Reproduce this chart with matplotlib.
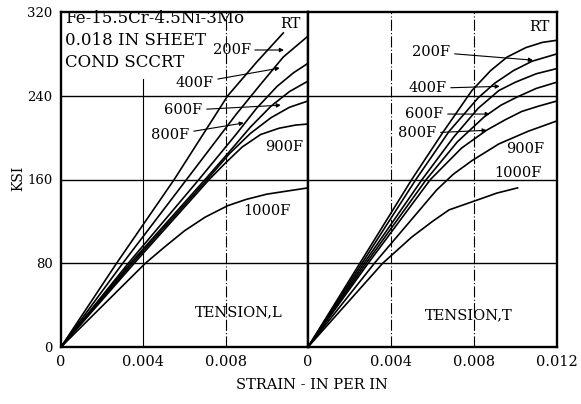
import matplotlib
matplotlib.use("Agg")
import matplotlib.pyplot as plt

# ---------------- data (strain in in/in, stress in ksi) ----------------
temps = ["RT", "200F", "400F", "600F", "800F", "900F", "1000F"]

# Tension, L (left panel)
L_RT_x = [0, 0.0027, 0.0055, 0.0081, 0.0095, 0.0108]
L_RT_y = [0, 80, 160, 240, 272, 300]
L_200_x = [0, 0.0030, 0.0061, 0.0085, 0.0097, 0.0108, 0.0120]
L_200_y = [0, 80, 160, 222, 251, 277, 297]
L_400_x = [0, 0.00327, 0.0067, 0.0085, 0.0095, 0.0105, 0.0113, 0.0120]
L_400_y = [0, 80, 160, 203, 228, 249, 262, 271]
L_600_x = [0, 0.00337, 0.0070, 0.0082, 0.0092, 0.0102, 0.0111, 0.0120]
L_600_y = [0, 80, 160, 187, 210, 230, 244, 254]
L_800_x = [0, 0.00346, 0.0071, 0.0082, 0.0092, 0.0102, 0.0111, 0.0120]
L_800_y = [0, 80, 160, 185, 204, 219, 229, 235]
L_900_x = [0, 0.00356, 0.0072, 0.0080, 0.0088, 0.0097, 0.0106, 0.0114, 0.0120]
L_900_y = [0, 80, 160, 176, 191, 203, 209, 212, 213]
L_1000_x = [0, 0.0041, 0.0050, 0.0060, 0.0070, 0.0081, 0.0090, 0.0100, 0.0110, 0.0120]
L_1000_y = [0, 80, 95, 111, 124, 135, 141, 146, 149, 152]

# Tension, T (right panel)
T_RT_x = [0, 0.0025, 0.0050, 0.0065, 0.0079, 0.0088, 0.0096, 0.0105, 0.0113, 0.0120]
T_RT_y = [0, 80, 160, 205, 245, 264, 277, 286, 291, 293]
T_200_x = [0, 0.0026, 0.0052, 0.0068, 0.0082, 0.0090, 0.0099, 0.0108, 0.0120]
T_200_y = [0, 80, 160, 206, 238, 252, 264, 273, 280]
T_400_x = [0, 0.0027, 0.0055, 0.0070, 0.0082, 0.0092, 0.0100, 0.0110, 0.0120]
T_400_y = [0, 80, 160, 200, 228, 245, 253, 261, 266]
T_600_x = [0, 0.0028, 0.0057, 0.0072, 0.0085, 0.0093, 0.0101, 0.0110, 0.0120]
T_600_y = [0, 80, 160, 196, 220, 231, 239, 247, 253]
T_800_x = [0, 0.0029, 0.0059, 0.0074, 0.0086, 0.0095, 0.0103, 0.0111, 0.0120]
T_800_y = [0, 80, 160, 190, 207, 217, 225, 230, 235]
T_900_x = [0, 0.0032, 0.0062, 0.0070, 0.0079, 0.0092, 0.0106, 0.0120]
T_900_y = [0, 80, 150, 165, 178, 194, 206, 216]
T_1000_x = [0, 0.0036, 0.0050, 0.0060, 0.0068, 0.0081, 0.0091, 0.0101]
T_1000_y = [0, 80, 105, 120, 131, 140, 147, 152]

y_ticks = [0, 80, 160, 240, 320]
x_ticks_left = [0, 0.004, 0.008]
x_tick_labels_left = ["0", "0.004", "0.008"]
x_ticks_right = [0, 0.004, 0.008, 0.012]
x_tick_labels_right = ["0", "0.004", "0.008", "0.012"]

FONT = "DejaVu Serif"
plt.rcParams["font.family"] = [FONT, "DejaVu Sans"]

W, H = 581, 404
fig = plt.figure(figsize=(W / 100, H / 100), dpi=100)

def fx(px):
    return px / W

def fy(py):
    return 1 - py / H

ax_bottom = fy(347)
ax_h = fy(12) - fy(347)
axL = fig.add_axes([fx(61), ax_bottom, fx(308) - fx(61), ax_h])
axR = fig.add_axes([fx(308), ax_bottom, fx(557) - fx(308), ax_h])

curve_lw = 1.2
left_curves = [(L_RT_x, L_RT_y), (L_200_x, L_200_y), (L_400_x, L_400_y),
               (L_600_x, L_600_y), (L_800_x, L_800_y), (L_900_x, L_900_y),
               (L_1000_x, L_1000_y)]
right_curves = [(T_RT_x, T_RT_y), (T_200_x, T_200_y), (T_400_x, T_400_y),
                (T_600_x, T_600_y), (T_800_x, T_800_y), (T_900_x, T_900_y),
                (T_1000_x, T_1000_y)]

for ax in (axL, axR):
    ax.set_xlim(0, 0.012)
    ax.set_ylim(0, 320)
    for s in ax.spines.values():
        s.set_linewidth(1.7)
    for yv in [80, 160, 240]:
        ax.axhline(yv, color="black", lw=1.0, zorder=1)
    ax.tick_params(length=0, pad=6)
    ax.tick_params(axis="y", labelsize=9.5)
    ax.tick_params(axis="x", labelsize=10.5)

for x, y in left_curves:
    axL.plot(x, y, color="black", lw=curve_lw, zorder=3, solid_joinstyle="round")
for x, y in right_curves:
    axR.plot(x, y, color="black", lw=curve_lw, zorder=3, solid_joinstyle="round")

# vertical grid lines
axL.plot([0.004, 0.004], [0, 256], color="black", lw=0.8, zorder=1)
axL.axvline(0.008, color="black", lw=0.8, ls=(0, (10, 2, 1, 2)), zorder=1)
axR.axvline(0.004, color="black", lw=0.8, ls=(0, (10, 2, 1, 2)), zorder=1)
axR.axvline(0.008, color="black", lw=0.8, ls=(0, (10, 2, 1, 2)), zorder=1)

axL.set_yticks(y_ticks)
axL.set_yticklabels([str(v) for v in y_ticks])
axR.set_yticks([])
axL.set_xticks(x_ticks_left)
axL.set_xticklabels(x_tick_labels_left)
axR.set_xticks(x_ticks_right)
axR.set_xticklabels(x_tick_labels_right)

fs = 10.5
# header text
for i, line in enumerate(["Fe-15.5Cr-4.5Ni-3Mo", "0.018 IN SHEET", "COND SCCRT"]):
    axL.text(0.0002, [314, 293, 272][i], line, fontsize=12, va="center", ha="left")

arrow = dict(arrowstyle="-|>", color="black", lw=0.8, mutation_scale=6,
             shrinkA=1, shrinkB=0)

# left panel labels
axL.text(0.01117, 308.5, "RT", fontsize=fs, ha="center", va="center")
axL.annotate("200F", xy=(0.01083, 283.7), xytext=(0.00829, 283.7), fontsize=fs,
             ha="center", va="center", arrowprops=arrow)
axL.annotate("400F", xy=(0.01063, 266.5), xytext=(0.00649, 252), fontsize=fs,
             ha="center", va="center", arrowprops=arrow)
axL.annotate("600F", xy=(0.01068, 231), xytext=(0.00595, 226), fontsize=fs,
             ha="center", va="center", arrowprops=arrow)
axL.annotate("800F", xy=(0.00888, 214), xytext=(0.00532, 202.5), fontsize=fs,
             ha="center", va="center", arrowprops=arrow)
axL.text(0.01083, 191, "900F", fontsize=fs, ha="center", va="center")
axL.text(0.0100, 130, "1000F", fontsize=fs, ha="center", va="center")
axL.text(0.00863, 33.4, "TENSION,L", fontsize=fs, ha="center", va="center")

# right panel labels
axR.text(0.01113, 305.6, "RT", fontsize=fs, ha="center", va="center")
axR.annotate("200F", xy=(0.01084, 274), xytext=(0.00595, 281.8), fontsize=fs,
             ha="center", va="center", arrowprops=arrow)
axR.annotate("400F", xy=(0.00924, 249), xytext=(0.00576, 247), fontsize=fs,
             ha="center", va="center", arrowprops=arrow)
axR.annotate("600F", xy=(0.00876, 222.5), xytext=(0.00561, 222.5), fontsize=fs,
             ha="center", va="center", arrowprops=arrow)
axR.annotate("800F", xy=(0.00861, 207), xytext=(0.00527, 204), fontsize=fs,
             ha="center", va="center", arrowprops=arrow)
axR.text(0.01045, 189, "900F", fontsize=fs, ha="center", va="center")
axR.text(0.0101, 166, "1000F", fontsize=fs, ha="center", va="center")
axR.text(0.00774, 30.6, "TENSION,T", fontsize=fs, ha="center", va="center")

fig.text(fx(18), fy(178), "KSI", rotation=90, fontsize=10, ha="center", va="center")
fig.text(fx(312), fy(385), "STRAIN - IN PER IN", fontsize=10.5, ha="center", va="center")

fig.savefig("out.png", dpi=100, facecolor="white")
